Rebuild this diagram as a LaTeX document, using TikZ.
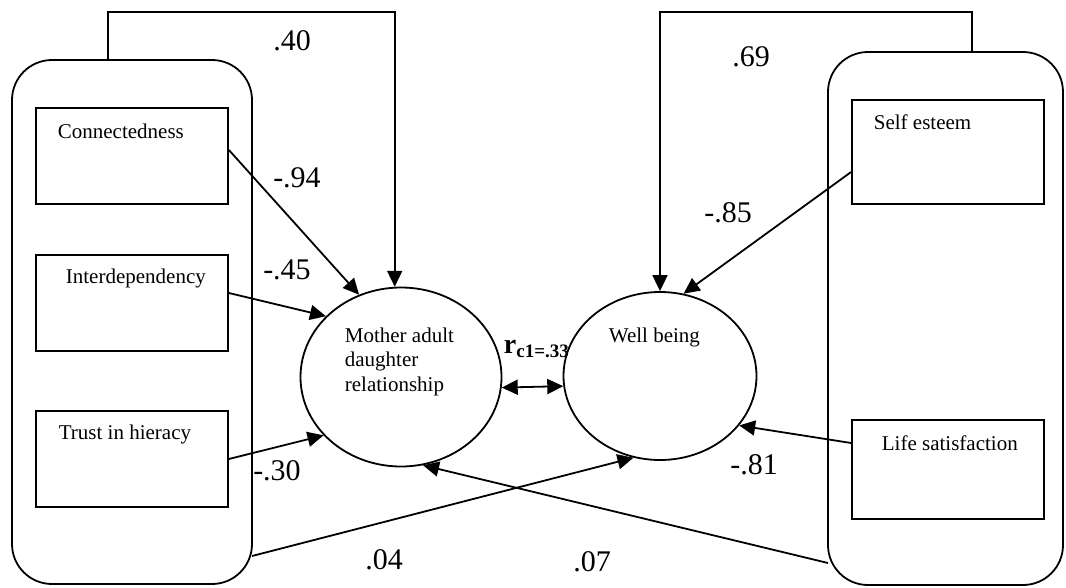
\documentclass[tikz,border=0pt]{standalone}
\usepackage{fontspec}
\setmainfont{Liberation Serif}
\usetikzlibrary{arrows.meta,shapes.geometric}
\begin{document}
\begin{tikzpicture}[x=1pt,y=-1pt,line width=1.8pt,
  box/.style={draw, rectangle, minimum width=192pt, inner sep=0pt},
  grp/.style={draw, rectangle, rounded corners=40pt, inner sep=0pt},
  lat/.style={draw, ellipse, inner sep=0pt},
  lbl/.style={inner sep=0pt, anchor=west, font=\fontsize{21}{24.5}\selectfont},
  coef/.style={inner sep=0pt, font=\fontsize{30}{32}\selectfont},
  arr/.style={-{Triangle[length=16pt,width=15pt]}},
  dbl/.style={{Triangle[length=16pt,width=15pt]}-{Triangle[length=16pt,width=15pt]}}]
\useasboundingbox (0,0) rectangle (1066,587);
% groups
\node[grp, minimum width=240pt, minimum height=524pt] (L) at (132,322) {};
\node[grp, minimum width=235pt, minimum height=533pt] (R) at (945.5,318.5) {};
% boxes
\node[box, minimum height=96pt] (C) at (132,156) {};
\node[box, minimum height=96pt] (I) at (132,303) {};
\node[box, minimum height=96pt] (T) at (132,459) {};
\node[box, minimum height=104pt] (S) at (948,152) {};
\node[box, minimum height=99pt] (Life) at (948,469.5) {};
% box texts
\node[lbl] (Ct) at (57,131) {Connectedness};
\node[lbl] (It) at (65,278) {Interdependency};
\node[lbl] (Tt) at (58,434) {Trust in hieracy};
\node[lbl] (St) at (873,122) {Self esteem};
\node[lbl] (Lt) at (881,443) {Life satisfaction};
% latent variables
\node[lat, minimum width=201pt, minimum height=179pt] (M) at (401,377) {};
\node[lat, minimum width=193pt, minimum height=168pt] (W) at (660,376) {};
\node[lbl, anchor=north west, align=left] (Mt) at (344,327) {Mother adult\\daughter\\relationship};
\node[lbl] (Wt) at (608,337) {Well being};
% connectors
\coordinate (Lup) at (108,12);
\coordinate (Rup) at (972,12);
\coordinate (L04) at (252,556);
\coordinate (R07) at (828,563);
\draw[arr] ([xshift=-24pt]L.north) -- (Lup) -| (M.94);
\draw[arr] ([xshift=26.5pt]R.north) -- (Rup) -| (W.north);
\draw[arr] ([yshift=6pt]C.east) -- (M.117);
\draw[arr] ([yshift=10pt]I.east) -- (M.141);
\draw[arr] (T.east) -- (M.217);
\draw[arr] (L04) -- (W.252);
\draw[arr] (R07) -- (M.284);
\draw[arr] ([yshift=-20pt]S.west) -- (W.74);
\draw[arr] ([yshift=26.5pt]Life.west) -- (W.328);
\draw[dbl] (M.354) -- (W.186);
% coefficients
\node[coef] (c40) at (292,41) {.40};
\node[coef] (c69) at (751,57) {.69};
\node[coef] (c94) at (297,178) {-.94};
\node[coef] (c45) at (287,270) {-.45};
\node[coef] (c85) at (728,213) {-.85};
\node[coef] (c30) at (277,471) {-.30};
\node[coef] (c81) at (754,465) {-.81};
\node[coef] (c04) at (384,560) {.04};
\node[coef] (c07) at (592,562) {.07};
\node[inner sep=0pt, anchor=base west] (rc) at (503,353) {\fontsize{28}{30}\selectfont\bfseries r\raisebox{-4pt}{\fontsize{19}{20}\selectfont\bfseries c1=.33}};
\end{tikzpicture}
\end{document}
